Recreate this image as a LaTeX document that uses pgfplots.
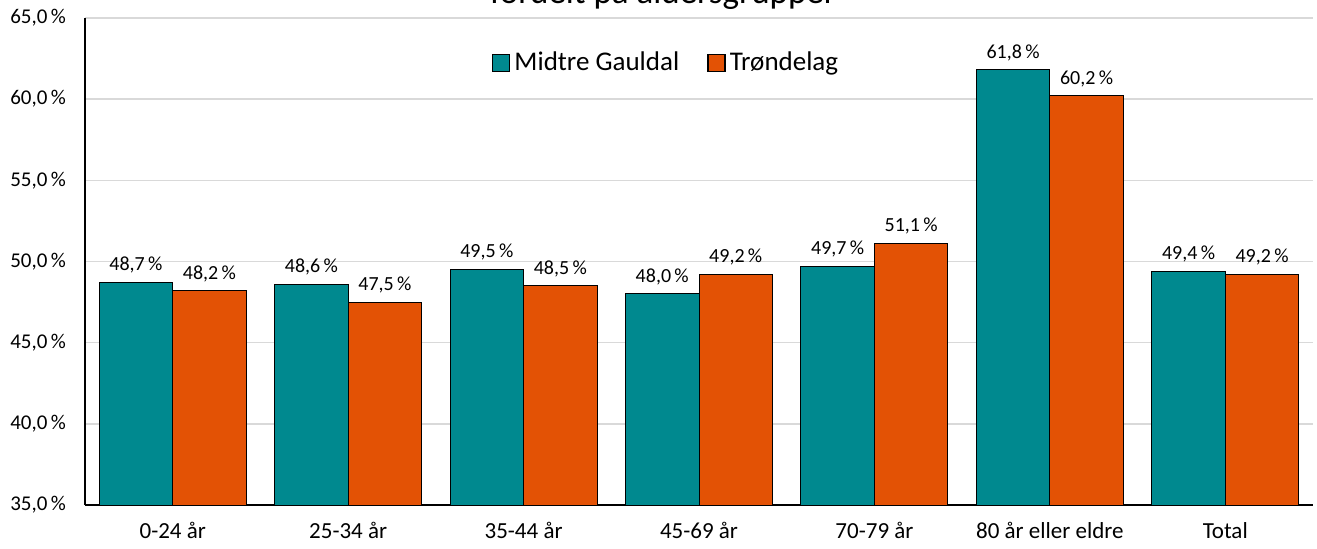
\documentclass[border=0pt]{standalone}
\usepackage{pgfplots}
\pgfplotsset{compat=1.18}
\usepackage{fontspec}
\setmainfont{Carlito}
\definecolor{tealbar}{RGB}{0,137,143}
\definecolor{orangebar}{RGB}{227,82,5}
\definecolor{gridgray}{RGB}{217,217,217}
\begin{document}
\begin{tikzpicture}
\begin{axis}[
  scale only axis, width=614pt, height=243.5pt,
  at={(0,0)}, anchor=south west,
  ybar=0pt, bar width=36.75pt,
  xmin=-0.5, xmax=6.5, ymin=35, ymax=65,
  xtick={0,1,2,3,4,5,6},
  xticklabels={0-24 år,25-34 år,35-44 år,45-69 år,70-79 år,80 år eller eldre,Total},
  ytick={35,40,45,50,55,60,65},
  yticklabels={{35,0\,\%},{40,0\,\%},{45,0\,\%},{50,0\,\%},{55,0\,\%},{60,0\,\%},{65,0\,\%}},
  axis x line*=bottom, axis y line*=left,
  axis line style={-, black, line width=0.75pt},
  ymajorgrids, grid style={draw=gridgray, line width=0.75pt},
  major tick length=0pt,
  xticklabel style={font=\fontsize{11.5}{13}\selectfont, yshift=-5pt},
  yticklabel style={font=\fontsize{10.5}{12}\selectfont, xshift=-6pt},
  title={fordelt på aldersgrupper},
  title style={font=\fontsize{17.5}{20}\selectfont, anchor=base, at={(rel axis cs:0.4707,1.0045)}},
  nodes near coords={\pgfmathprintnumber[fixed,fixed zerofill,precision=1,use comma,assume math mode=true]{\pgfplotspointmeta}\,\%},
  every node near coord/.append style={font=\fontsize{10}{12}\selectfont, black, yshift=1pt},
  legend style={at={(rel axis cs:0.474,0.908)}, anchor=center, draw=none, fill=none,
    font=\fontsize{13.5}{16}\selectfont, legend columns=2,
    /tikz/every even column/.append style={column sep=12pt}},
  legend image code/.code={\draw[#1, draw=black, line width=0.75pt] (0pt,-4.25pt) rectangle (8.5pt,4.25pt);},
]
\addplot[fill=tealbar, draw=black, line width=0.5pt] coordinates {(0,48.7) (1,48.6) (2,49.5) (3,48.0) (4,49.7) (5,61.8) (6,49.4)};
\addlegendentry{Midtre Gauldal}
\addplot[fill=orangebar, draw=black, line width=0.5pt] coordinates {(0,48.2) (1,47.5) (2,48.5) (3,49.2) (4,51.1) (5,60.2) (6,49.2)};
\addlegendentry{Trøndelag}
\end{axis}
\pgfresetboundingbox
\useasboundingbox (-42.5pt,-21.5pt) rectangle (616pt,252.5pt);
\end{tikzpicture}
\end{document}
